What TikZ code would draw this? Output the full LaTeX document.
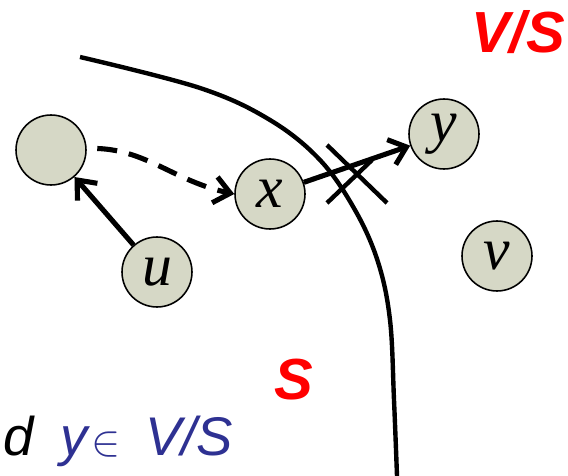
\documentclass[tikz,border=0pt]{standalone}
\usepackage{fontspec}
\usepackage{tikz}
\usetikzlibrary{arrows.meta, positioning, calc}

\newfontfamily\lblfont{Liberation Serif}
\newfontfamily\arialfont{Liberation Sans}
\definecolor{nodefill}{RGB}{214,216,198}
\definecolor{setred}{RGB}{255,0,0}
\definecolor{noteblue}{RGB}{46,49,146}

\begin{document}
\begin{tikzpicture}[
    x=0.02cm, y=-0.02cm,
    vertex/.style={circle, draw, line width=0.9pt, fill=nodefill, minimum size=1.4cm, inner sep=0pt,
        font=\lblfont\itshape\fontsize{34}{34}\selectfont},
    edge/.style={line width=2.9pt, -{Straight Barb[length=9pt, width=15pt, line width=2.9pt]}},
    setlabel/.style={text=setred, font=\arialfont\bfseries\itshape\fontsize{33}{33}\selectfont},
    note/.style={anchor=base west, inner sep=0pt, font=\arialfont\itshape\fontsize{31}{31}\selectfont}
]
    \useasboundingbox (0,0) rectangle (568,476);

    % vertices
    \node[vertex] (w) at (51,150) {};
    \node[vertex] (u) at (157,272) {u};
    \node[vertex] (x) at (270,194) {x};
    \node[vertex] (y) at (444,134) {y};
    \node[vertex] (v) at (497,256) {v};

    % the cut between S and V/S
    \draw[line width=2.5pt] plot[smooth, tension=0.6] coordinates
        {(80,57) (200,88) (270,120) (320,160) (355,210) (378,262) (390,320) (394,400) (397,476)};

    % edges
    \draw[edge] (u) -- (w);
    \draw[edge, dash pattern=on 0.4cm off 0.24cm, shorten <=6pt] (w.3) to[out=-2, in=168] (x.west);
    \draw[edge] (x) -- (y);

    % crossed out edge
    \coordinate (c1) at (327,145);
    \coordinate (c2) at (387,203);
    \coordinate (c3) at (327,203);
    \coordinate (c4) at (372,160);
    \draw[line width=2.5pt] (c1) -- (c2);
    \draw[line width=2.5pt] (c3) -- (c4);

    % labels
    \node[setlabel] (vs) at (518,32) {V/S};
    \node[setlabel] (s) at (294,380) {S};
    \node[note] (d) at (3,455) {d};
    \node[note, text=noteblue] (yin) at (60,455) {y\hspace{2pt}$\in$};
    \node[note, text=noteblue] (vsnote) at (145,455) {V/S};
\end{tikzpicture}
\end{document}
